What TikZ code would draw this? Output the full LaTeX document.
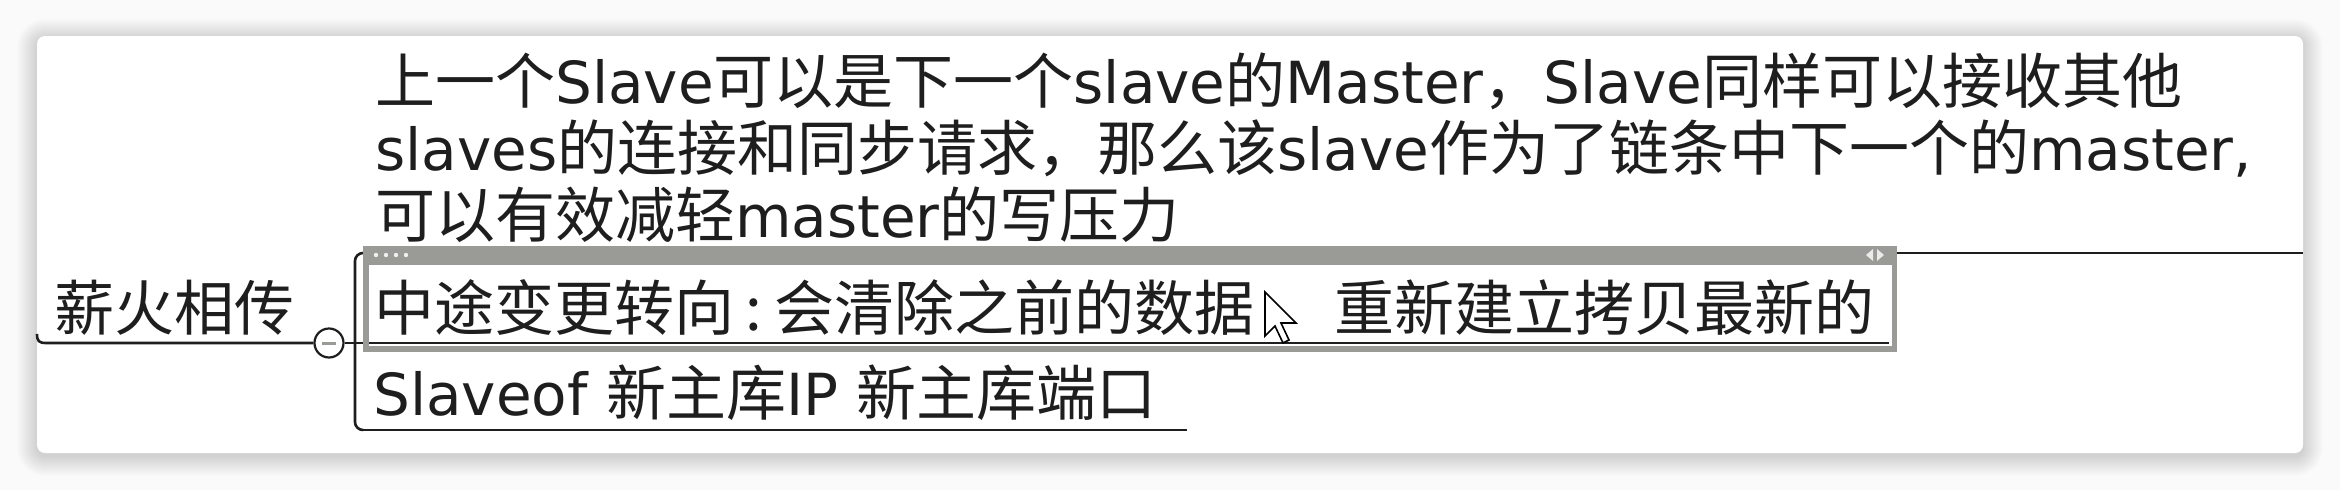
\documentclass[tikz,border=0pt]{standalone}
\usepackage{fontspec}
\setmainfont{DejaVu Sans}
\newfontfamily\cjkfont{Noto Sans CJK SC}
\newcommand\zh[1]{{\fontsize{60}{67}\selectfont\cjkfont #1}}
\definecolor{inkc}{HTML}{1E1E1E}
\definecolor{boxgray}{HTML}{9A9A97}
\definecolor{bgc}{HTML}{FAFAFA}
\begin{document}
\begin{tikzpicture}[x=1pt,y=-1pt,
  edge/.style={draw=inkc,line width=2.6pt},
  txt/.style={anchor=base west,inner sep=0pt,text=inkc,font=\fontsize{58}{67}\selectfont},
  foldbtn/.style={circle,draw=inkc,fill=white,line width=2.2pt,minimum size=29pt,inner sep=0pt}]
\useasboundingbox (0,0) rectangle (2340,490);
\fill[bgc] (0,0) rectangle (2340,490);
% shadow of the card
\foreach \i [evaluate=\i as \r using \i+8] in {1,...,20}
  \fill[black,opacity=0.009,rounded corners=\r pt] (37-\i,36-\i+3) rectangle (2303+\i,453+\i+3);
% card
\fill[white,rounded corners=8pt] (37,36) rectangle (2303,453);
% root node and its underline
\node[txt] (root) at (54,330) {\zh{薪火相传}};
\node[foldbtn] (fold) at (329,343) {};
\draw[boxgray,line width=3pt] ([xshift=-7pt]fold.center) -- ([xshift=7pt]fold.center);
\coordinate (rootL) at (37,334);
\coordinate (brk) at (355,343);
\coordinate (topL) at (363,253);
\coordinate (topR) at (2303,253);
\coordinate (midL) at (363,343);
\coordinate (botL) at (363,430);
\coordinate (botR) at (1187,430);
\draw[edge] (rootL) .. controls (37,341) and (39,343) .. (46,343) -- (fold.west);
\draw[edge] (fold.east) -- (brk);
\draw[edge,rounded corners=8pt] (brk) |- (topL);
\draw[edge,rounded corners=8pt] (brk) |- (botL);
\draw[edge] (brk) -- (midL);
% top child
\draw[edge] (topL) -- (topR);
\node[txt] (top1) at (375,103) {\zh{上一个}Slave\zh{可以是下一个}slave\zh{的}Master\zh{，}Slave\zh{同样可以接收其他}};
\node[txt] (top2) at (375,170) {slaves\zh{的连接和同步请求，那么该}slave\zh{作为了链条中下一个的}master,};
\node[txt] (top3) at (375,237) {\zh{可以有效减轻}master\zh{的写压力}};
% middle child (selected box)
\fill[boxgray] (363,246) rectangle (1897,352);
\fill[white] (369,265) rectangle (1892,346);
\foreach \k in {0,1,2,3} \fill[white!85!boxgray] (376+\k*10,255) circle (2.2pt);
\fill[white!80!boxgray] (1873,249) -- (1866,255) -- (1873,261) -- cycle;
\fill[white!80!boxgray] (1877,249) -- (1884,255) -- (1877,261) -- cycle;
\draw[inkc,line width=2.6pt] (369,343) -- (1889,343);
\node[txt] (mid) at (374,330) {\zh{中途变更转向}\makebox[40pt]{\zh{:}}\zh{会清除之前的数据}\hspace{80pt}\zh{重新建立拷贝最新的}};
% bottom child
\draw[edge] (botL) -- (botR);
\node[txt] (bot) at (373,415) {Slaveof \zh{新主库}IP \zh{新主库端口}};
% mouse pointer
\draw[black,fill=white,line width=1.6pt,line join=miter]
  (1265,292) -- (1265,336) -- (1275,326) -- (1283,343) -- (1289,340) -- (1281,323) -- (1296,323) -- cycle;
\end{tikzpicture}
\end{document}
